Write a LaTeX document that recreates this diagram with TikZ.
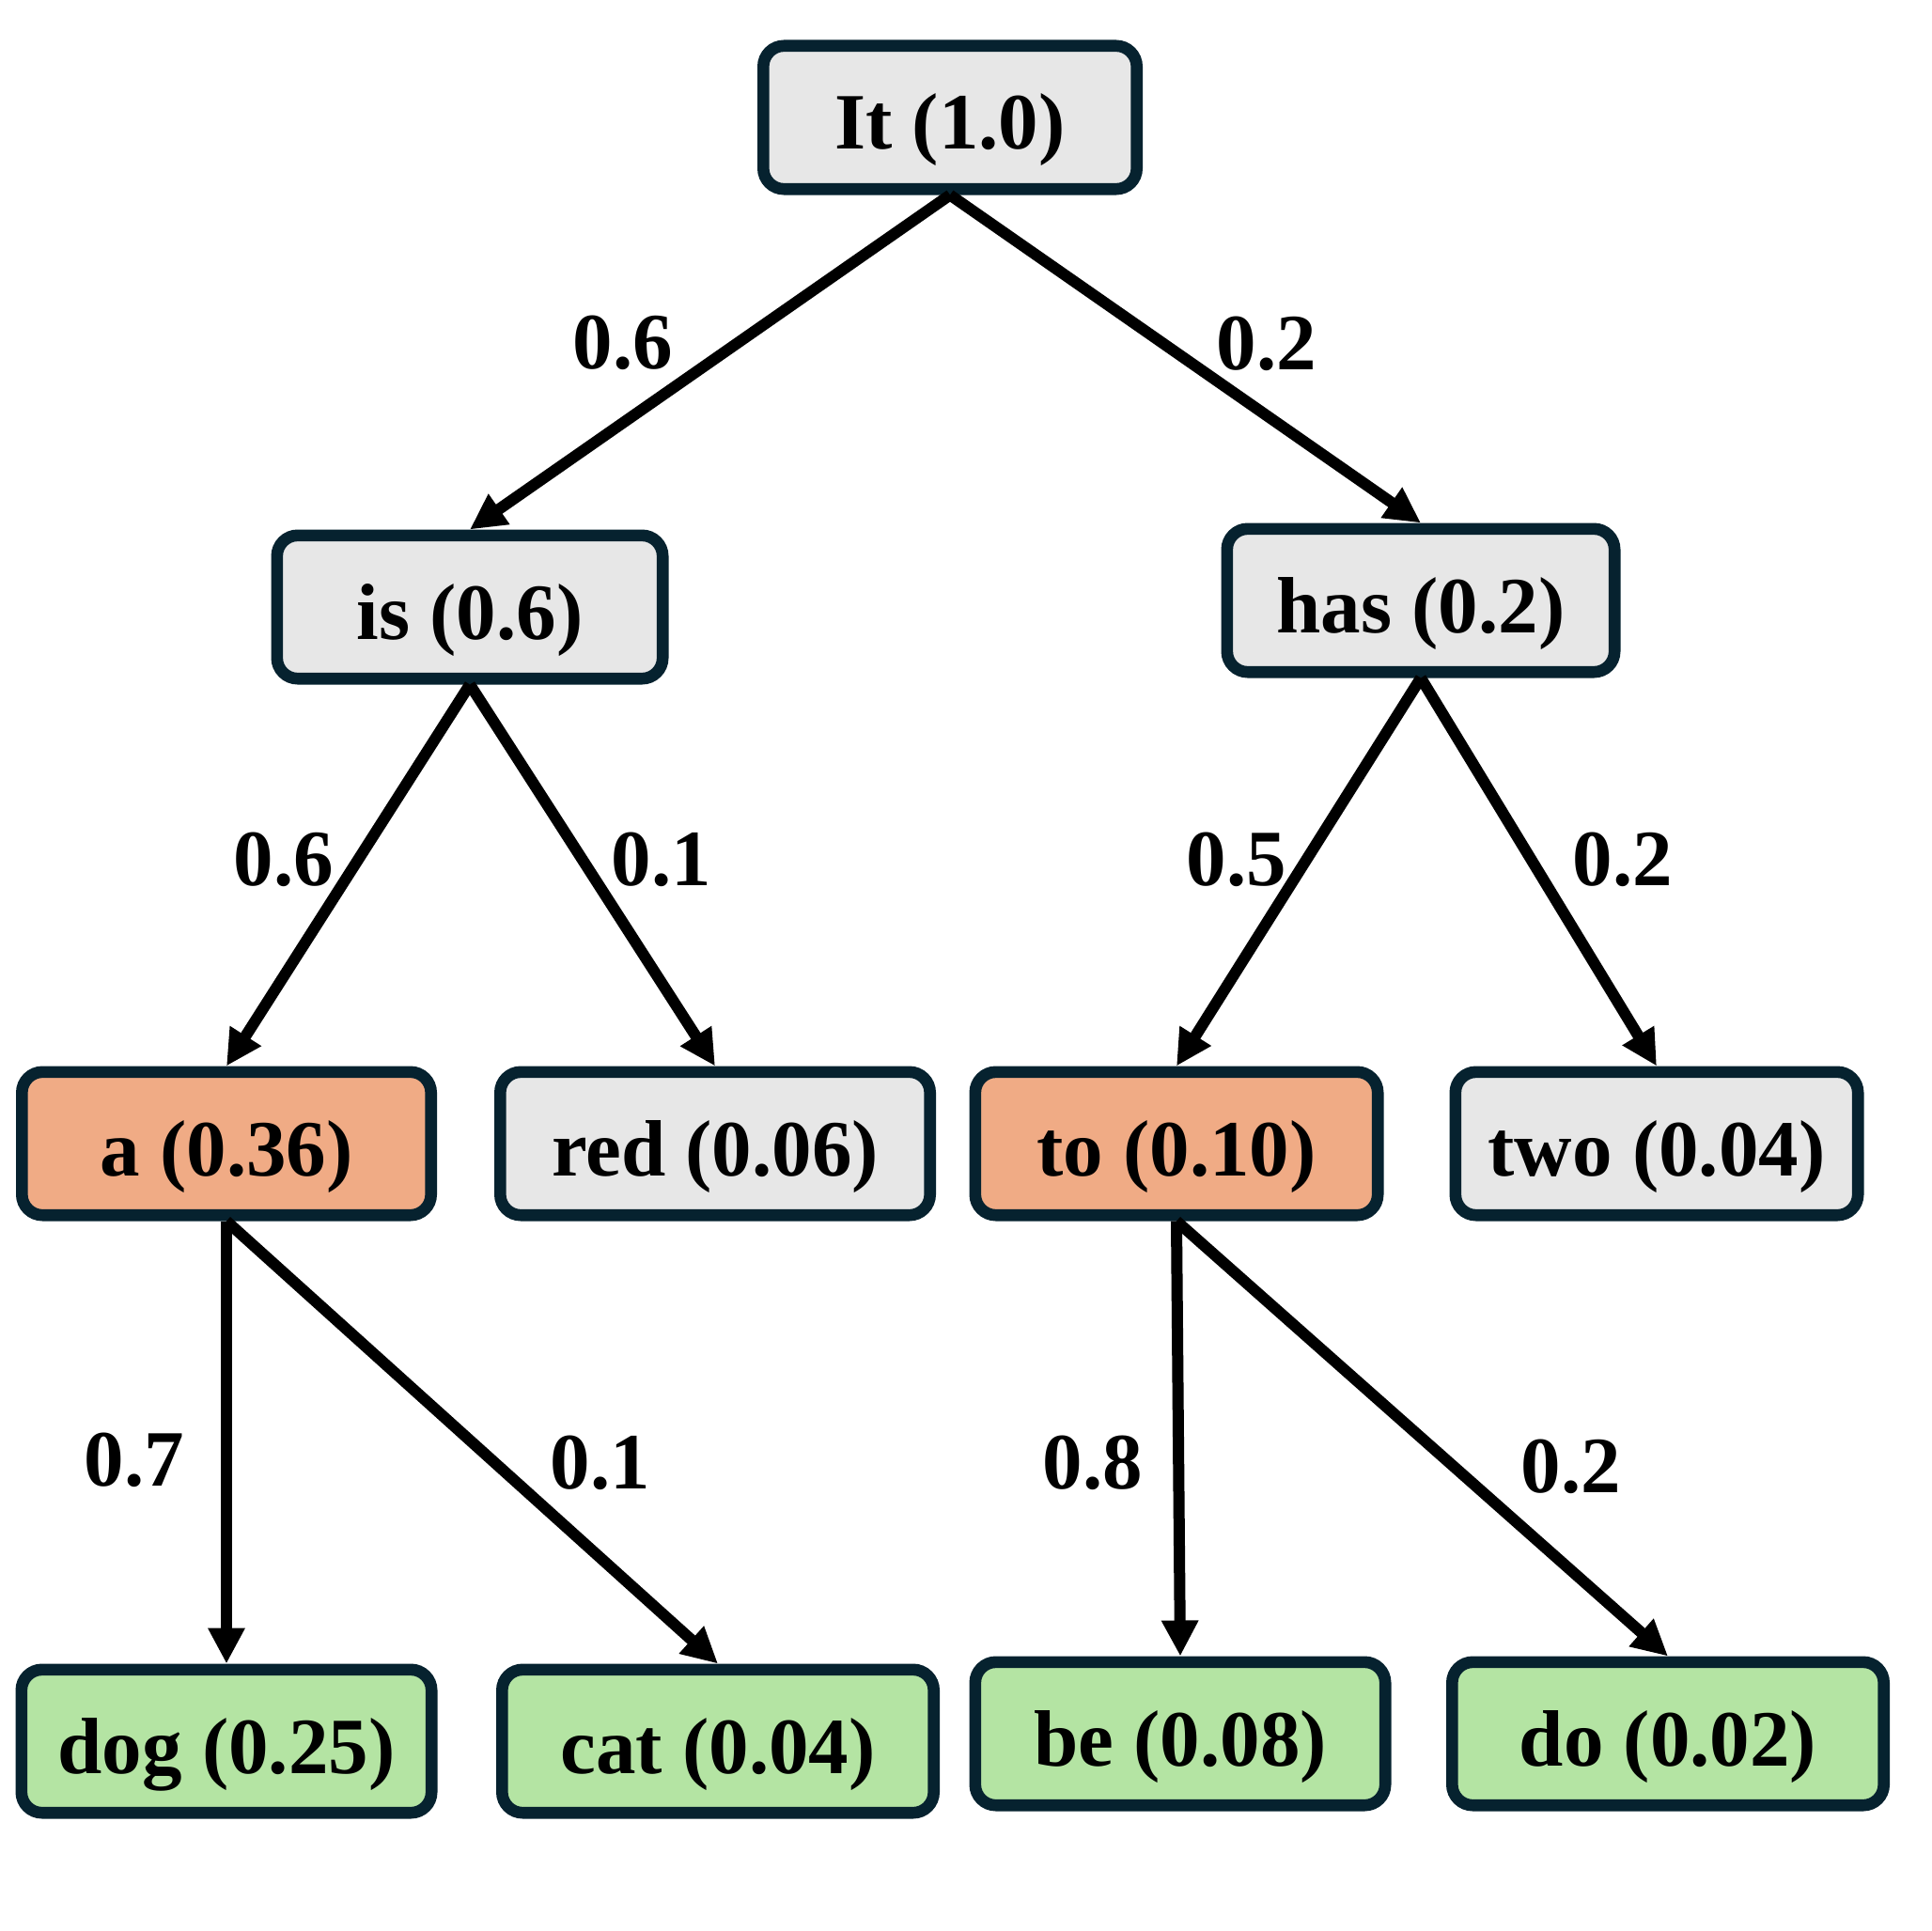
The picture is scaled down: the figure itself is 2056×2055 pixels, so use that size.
\documentclass[tikz,border=0pt]{standalone}
\usepackage{fontspec}
\setmainfont{Liberation Serif}
\usetikzlibrary{arrows.meta}
\definecolor{bordercol}{HTML}{06222F}
\definecolor{greyfill}{HTML}{E7E7E7}
\definecolor{orangefill}{HTML}{F0AB85}
\definecolor{greenfill}{HTML}{B4E4A3}
\begin{document}
\begin{tikzpicture}[x=0.5pt,y=-0.5pt,
  box/.style={draw=bordercol, line width=6.3pt, rounded corners=11pt, inner sep=0pt,
    minimum height=76.2pt, text height=36pt, text depth=2pt,
    font=\fontsize{42.5}{50}\selectfont\bfseries},
  greybox/.style={box, fill=greyfill},
  orangebox/.style={box, fill=orangefill},
  greenbox/.style={box, fill=greenfill},
  edge/.style={line width=6pt, -{Triangle[length=19pt,width=18.5pt]}},
  lbl/.style={anchor=base, inner sep=0pt, font=\fontsize{42.5}{50}\selectfont\bfseries}]
\useasboundingbox (0,0) rectangle (2056,2055);
\fill[white] (0,0) rectangle (2056,2055);
% nodes
\node[greybox, minimum width=198.7pt] (it) at (1011,125) {It (1.0)};
\node[greybox, minimum width=205.2pt] (is) at (500,646) {is (0.6)};
\node[greybox, minimum width=206.2pt] (has) at (1512,639) {has (0.2)};
\node[orangebox, minimum width=217.7pt] (a) at (241,1217) {a (0.36)};
\node[greybox, minimum width=228.7pt] (red) at (761,1217) {red (0.06)};
\node[orangebox, minimum width=214.2pt] (to) at (1252,1217) {to (0.10)};
\node[greybox, minimum width=214.2pt] (two) at (1763,1217) {two (0.04)};
\node[greenbox, minimum width=218.2pt] (dog) at (241,1853) {dog (0.25)};
\node[greenbox, minimum width=229.7pt] (cat) at (764,1853) {cat (0.04)};
\node[greenbox, minimum width=218.2pt] (be) at (1256,1845) {be (0.08)};
\node[greenbox, minimum width=229.7pt] (do) at (1775,1845) {do (0.02)};
% edges
\draw[edge] (it.south) -- (is.north);
\draw[edge] (it.south) -- (has.north);
\draw[edge] (is.south) -- (a.north);
\draw[edge] (is.south) -- (red.north);
\draw[edge] (has.south) -- (to.north);
\draw[edge] (has.south) -- (two.north);
\draw[edge] (a.south) -- (dog.north);
\draw[edge] (a.south) -- (cat.north);
\draw[edge] (to.south) -- (be.north);
\draw[edge] (to.south) -- (do.north);
% edge labels
\node[lbl] (l1) at (663,392) {0.6};
\node[lbl] (l2) at (1348,393) {0.2};
\node[lbl] (l3) at (302,942) {0.6};
\node[lbl] (l4) at (704,942) {0.1};
\node[lbl] (l5) at (1316,942) {0.5};
\node[lbl] (l6) at (1727,942) {0.2};
\node[lbl] (l7) at (143,1581) {0.7};
\node[lbl] (l8) at (639,1584) {0.1};
\node[lbl] (l9) at (1163,1584) {0.8};
\node[lbl] (l10) at (1672,1588) {0.2};
\end{tikzpicture}
\end{document}
